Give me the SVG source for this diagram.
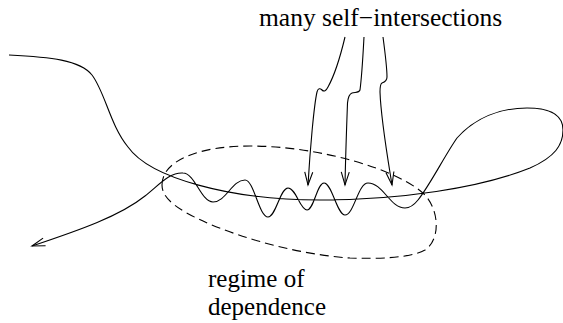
<svg xmlns="http://www.w3.org/2000/svg" width="563" height="323" viewBox="0 0 563 323">
<style>
.ln{fill:none;stroke:#000;stroke-width:1.1}
.dash{fill:none;stroke:#000;stroke-width:1.1;stroke-dasharray:9,5}
text{font-family:'Liberation Serif','Times New Roman','DejaVu Serif',serif;font-size:25.5px;fill:#000}
.sm{font-size:25px}
</style>
<defs>
<marker id="ah" markerUnits="userSpaceOnUse" markerWidth="20" markerHeight="12" refX="14" refY="6" orient="auto">
<path d="M1,2 L14,6 L1,10" fill="none" stroke="#000" stroke-width="1.1"/>
</marker>
</defs>
<g id="region">
<path class="dash" d="M 162,185 C 162,160 200,146 250,146 C 320,146 400,170 425,195 C 440,212 440,240 425,250 C 410,258 380,259 350,258 C 290,254 220,232 185,212 C 170,203 162,195 162,185 Z"/>
</g>
<g id="curve">
<path class="ln" marker-end="url(#ah)" d="M 9,55 C 50,57 80,60 92,75 C 105,92 110,125 128,147 C 150,178 230,200 320,200 C 400,200 480,188 530,168 C 555,157 563,145 563,130 C 563,112 545,108 527,108 C 500,108 475,118 457,138 C 445,155 430,185 418,200 C 414,205 410,208 405,208 C 390,208 383,183 368,183 C 358,183 354,215 345,215 C 337,215 332,183 324,183 C 317,183 314,210 307,210 C 300,210 296,188 288,188 C 280,188 276,217 268,217 C 259,217 254,180 245,180 C 232,180 226,202 213,202 C 201,202 195,173 183,173 C 170,172 160,184 145,196 C 120,216 80,230 32,246"/>
</g>
<g id="connectors">
<path class="ln" marker-end="url(#ah)" d="M 345,37 C 340,58 333,78 328,87 C 326,91 324,92 322,90 C 320,88 318,88 317,92 C 314,105 310,150 308,185"/>
<path class="ln" marker-end="url(#ah)" d="M 364,37 C 363,55 362,75 360,90 C 359,93 355,92 352,93 C 349,94 348,98 347.5,103 C 346.5,130 345.5,160 345,185"/>
<path class="ln" marker-end="url(#ah)" d="M 383,37 C 385,52 387,68 387,77 C 387,81 385,82 382,83 C 380,84 380,88 380,92 C 381,120 388,160 392,185"/>
</g>
<g id="label-top">
<text x="259" y="26">many self−intersections</text>
</g>
<g id="label-bottom">
<text class="sm" x="208" y="287">regime of</text>
<text class="sm" x="208" y="315">dependence</text>
</g>
</svg>
